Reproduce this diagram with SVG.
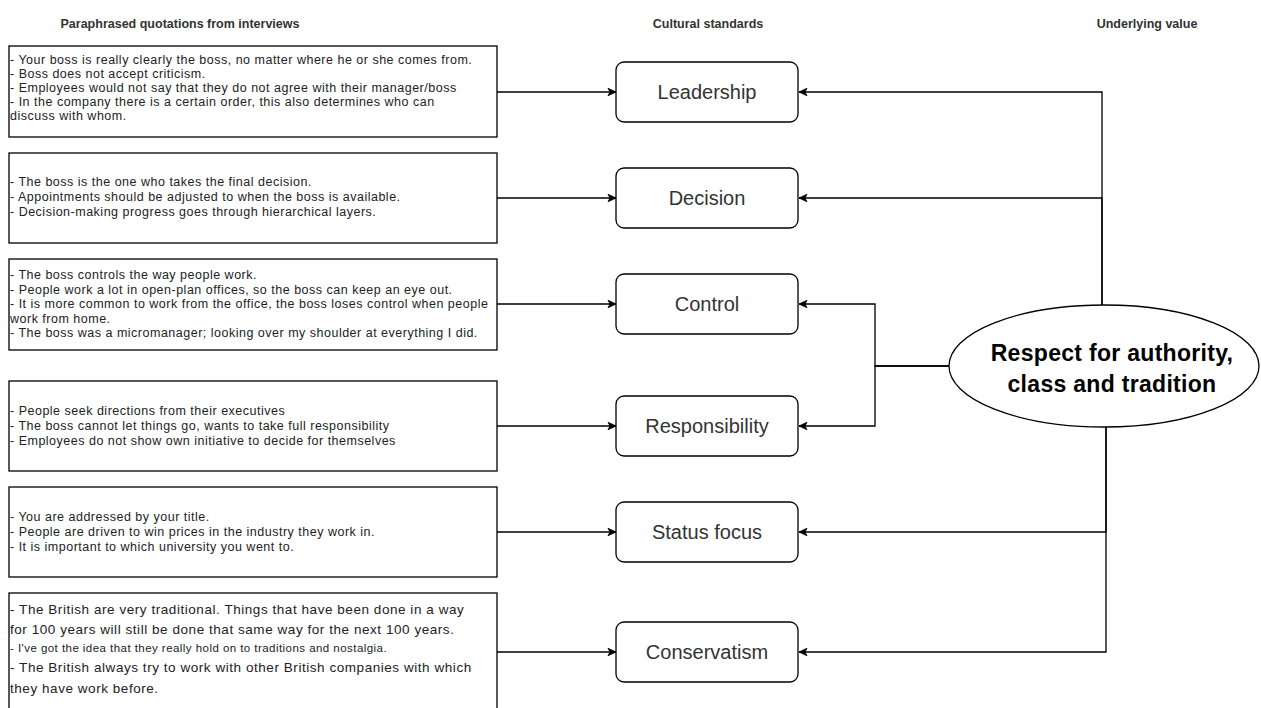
<svg xmlns="http://www.w3.org/2000/svg" width="1261" height="708" viewBox="0 0 1261 708">
<style>
.hdr{font-family:"Liberation Sans",Arial,sans-serif;font-size:12.5px;font-weight:bold;fill:#333;text-anchor:middle}
.q{fill:#fff;stroke:#000;stroke-width:1.3}
.qt{font-family:"Liberation Sans",Arial,sans-serif;font-size:12.5px;letter-spacing:0.5px;fill:#222}
.qt13{font-family:"Liberation Sans",Arial,sans-serif;font-size:13.5px;letter-spacing:0.55px;fill:#222}
.qts{font-family:"Liberation Sans",Arial,sans-serif;font-size:11.5px;letter-spacing:0.45px;fill:#222}
.cs{fill:#fff;stroke:#000;stroke-width:1.3}
.cst{font-family:"Liberation Sans",Arial,sans-serif;font-size:20px;fill:#333;text-anchor:middle}
.val{font-family:"Liberation Sans",Arial,sans-serif;font-size:23px;letter-spacing:0.3px;font-weight:bold;fill:#000;text-anchor:middle}
.c{fill:none;stroke:#000;stroke-width:1.3}
</style>
<defs>
<marker id="arr" markerUnits="userSpaceOnUse" markerWidth="10" markerHeight="10" viewBox="0 0 10 10" refX="9" refY="5" orient="auto">
<path d="M1,1.2 L9,5 L1,8.8 L3,5 Z" fill="#000" stroke="#000" stroke-width="0.8"/>
</marker>
</defs>
<rect width="1261" height="708" fill="#fff"/>
<g id="headers">
<text class="hdr" x="180" y="28">Paraphrased quotations from interviews</text>
<text class="hdr" x="708" y="28">Cultural standards</text>
<text class="hdr" x="1147" y="28">Underlying value</text>
</g>
<g id="connectors">
<path class="c" d="M497,92 H616" marker-end="url(#arr)"/>
<path class="c" d="M497,198 H616" marker-end="url(#arr)"/>
<path class="c" d="M497,304 H616" marker-end="url(#arr)"/>
<path class="c" d="M497,426 H616" marker-end="url(#arr)"/>
<path class="c" d="M497,532 H616" marker-end="url(#arr)"/>
<path class="c" d="M497,652 H616" marker-end="url(#arr)"/>
<path class="c" d="M1102,305 V92 H799" marker-end="url(#arr)"/>
<path class="c" d="M1102,305 V198 H799" marker-end="url(#arr)"/>
<path class="c" d="M949,366 H875 V304 H799" marker-end="url(#arr)"/>
<path class="c" d="M949,366 H875 V426 H799" marker-end="url(#arr)"/>
<path class="c" d="M1106,427 V532 H799" marker-end="url(#arr)"/>
<path class="c" d="M1106,427 V652 H799" marker-end="url(#arr)"/>
</g>
<g id="q1">
<rect class="q" x="9" y="46" width="488" height="91"/>
<text class="qt" x="10" y="64">- Your boss is really clearly the boss, no matter where he or she comes from.</text>
<text class="qt" x="10" y="78">- Boss does not accept criticism.</text>
<text class="qt" x="10" y="92">- Employees would not say that they do not agree with their manager/boss</text>
<text class="qt" x="10" y="106">- In the company there is a certain order, this also determines who can</text>
<text class="qt" x="10" y="120">discuss with whom.</text>
</g>
<g id="q2">
<rect class="q" x="9" y="153" width="488" height="90"/>
<text class="qt" x="10" y="186">- The boss is the one who takes the final decision.</text>
<text class="qt" x="10" y="201">- Appointments should be adjusted to when the boss is available.</text>
<text class="qt" x="10" y="216">- Decision-making progress goes through hierarchical layers.</text>
</g>
<g id="q3">
<rect class="q" x="9" y="259" width="488" height="91"/>
<text class="qt" x="10" y="279">- The boss controls the way people work.</text>
<text class="qt" x="10" y="293.5">- People work a lot in open-plan offices, so the boss can keep an eye out.</text>
<text class="qt" x="10" y="308">- It is more common to work from the office, the boss loses control when people</text>
<text class="qt" x="10" y="322.5">work from home.</text>
<text class="qt" x="10" y="337">- The boss was a micromanager; looking over my shoulder at everything I did.</text>
</g>
<g id="q4">
<rect class="q" x="9" y="381" width="488" height="90"/>
<text class="qt" x="10" y="415">- People seek directions from their executives</text>
<text class="qt" x="10" y="430">- The boss cannot let things go, wants to take full responsibility</text>
<text class="qt" x="10" y="445">- Employees do not show own initiative to decide for themselves</text>
</g>
<g id="q5">
<rect class="q" x="9" y="487" width="488" height="90"/>
<text class="qt" x="10" y="521">- You are addressed by your title.</text>
<text class="qt" x="10" y="536">- People are driven to win prices in the industry they work in.</text>
<text class="qt" x="10" y="551">- It is important to which university you went to.</text>
</g>
<g id="q6">
<rect class="q" x="9" y="593" width="488" height="125"/>
<text class="qt13" x="10" y="614">- The British are very traditional. Things that have been done in a way</text>
<text class="qt13" x="10" y="634">for 100 years will still be done that same way for the next 100 years.</text>
<text class="qts" x="10" y="652">- I've got the idea that they really hold on to traditions and nostalgia.</text>
<text class="qt13" x="10" y="672">- The British always try to work with other British companies with which</text>
<text class="qt13" x="10" y="693">they have work before.</text>
</g>
<g id="leadership">
<rect class="cs" x="616" y="62" width="182" height="60" rx="8"/>
<text class="cst" x="707" y="99">Leadership</text>
</g>
<g id="decision">
<rect class="cs" x="616" y="168" width="182" height="60" rx="8"/>
<text class="cst" x="707" y="205">Decision</text>
</g>
<g id="control">
<rect class="cs" x="616" y="274" width="182" height="60" rx="8"/>
<text class="cst" x="707" y="311">Control</text>
</g>
<g id="responsibility">
<rect class="cs" x="616" y="396" width="182" height="60" rx="8"/>
<text class="cst" x="707" y="433">Responsibility</text>
</g>
<g id="status">
<rect class="cs" x="616" y="502" width="182" height="60" rx="8"/>
<text class="cst" x="707" y="539">Status focus</text>
</g>
<g id="conservatism">
<rect class="cs" x="616" y="622" width="182" height="60" rx="8"/>
<text class="cst" x="707" y="659">Conservatism</text>
</g>
<g id="value">
<ellipse cx="1104" cy="366" rx="155" ry="61" fill="#fff" stroke="#000" stroke-width="1.3"/>
<text class="val" x="1112" y="361">Respect for authority,</text>
<text class="val" x="1112" y="392">class and tradition</text>
</g>
</svg>
